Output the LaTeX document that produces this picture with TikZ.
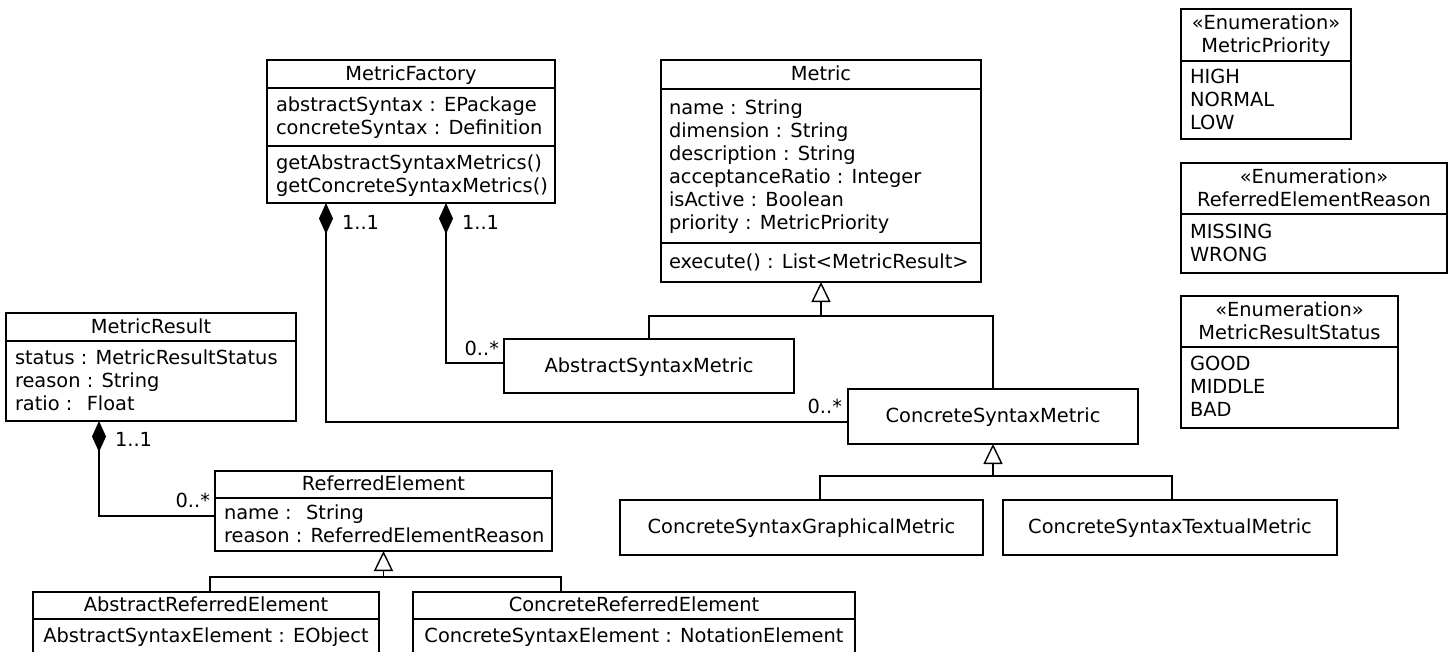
\documentclass[tikz,border=0pt]{standalone}
\usepackage{fontspec}
\setmainfont{DejaVu Sans}
\usetikzlibrary{arrows.meta}
\begin{document}
\begin{tikzpicture}[x=1pt,y=-1pt,
  clsbox/.style={draw=black, fill=white, line width=1.4pt, anchor=north west, inner sep=0pt, outer sep=0pt},
  divline/.style={draw=black, line width=1.4pt},
  umltext/.style={font=\fontsize{19.4}{23}\selectfont, text=black, inner sep=0pt, outer sep=0pt},
  clsname/.style={umltext, anchor=base},
  clsattr/.style={umltext, anchor=base west},
  multl/.style={umltext, anchor=base west},
  multr/.style={umltext, anchor=base east},
  conn/.style={draw=black, line width=1.4pt},
  comp/.style={conn, {Diamond[length=31pt,width=14pt]}-},
  gen/.style={conn, -{Triangle[open,length=20pt,width=19pt]}},
]
\fill[white] (0,0) rectangle (1453,651);
\useasboundingbox (0,0) rectangle (1453,651);
\clip (0,0) rectangle (1453,651);

% ---------- MetricFactory ----------
\node[clsbox, minimum width=288pt, minimum height=143pt] (mf) at (267,60) {};
\draw[divline] (mf.west |- 0,88) -- (mf.east |- 0,88);
\draw[divline] (mf.west |- 0,146) -- (mf.east |- 0,146);
\node[clsname] (mf-n) at (mf.center |- 0,80) {MetricFactory};
\node[clsattr] (mf-a1) at (276,111.5) {abstractSyntax : EPackage};
\node[clsattr] (mf-a2) at (276,134.5) {concreteSyntax : Definition};
\node[clsattr] (mf-o1) at (276,169) {getAbstractSyntaxMetrics()};
\node[clsattr] (mf-o2) at (276,192) {getConcreteSyntaxMetrics()};

% ---------- Metric ----------
\node[clsbox, minimum width=320pt, minimum height=222pt] (metric) at (661,60) {};
\draw[divline] (metric.west |- 0,89) -- (metric.east |- 0,89);
\draw[divline] (metric.west |- 0,243) -- (metric.east |- 0,243);
\node[clsname] (metric-n) at (metric.center |- 0,80.5) {Metric};
\node[clsattr] (metric-a1) at (669,114.5) {name : String};
\node[clsattr] (metric-a2) at (669,137.5) {dimension : String};
\node[clsattr] (metric-a3) at (669,160.5) {description : String};
\node[clsattr] (metric-a4) at (669,183.5) {acceptanceRatio : Integer};
\node[clsattr] (metric-a5) at (669,206.5) {isActive : Boolean};
\node[clsattr] (metric-a6) at (669,229.5) {priority : MetricPriority};
\node[clsattr] (metric-o1) at (669,268.5) {execute() : List<MetricResult>};

% ---------- Enumerations ----------
\node[clsbox, minimum width=170pt, minimum height=130pt] (mp) at (1181,9) {};
\draw[divline] (mp.west |- 0,61) -- (mp.east |- 0,61);
\node[clsname] (mp-s) at (mp.center |- 0,29.5) {«Enumeration»};
\node[clsname] (mp-n) at (mp.center |- 0,52.5) {MetricPriority};
\node[clsattr] (mp-v1) at (1190,83) {HIGH};
\node[clsattr] (mp-v2) at (1190,106) {NORMAL};
\node[clsattr] (mp-v3) at (1190,129) {LOW};

\node[clsbox, minimum width=266pt, minimum height=110pt] (rer) at (1181,163) {};
\draw[divline] (rer.west |- 0,214) -- (rer.east |- 0,214);
\node[clsname] (rer-s) at (rer.center |- 0,183) {«Enumeration»};
\node[clsname] (rer-n) at (rer.center |- 0,206) {ReferredElementReason};
\node[clsattr] (rer-v1) at (1190,238) {MISSING};
\node[clsattr] (rer-v2) at (1190,261) {WRONG};

\node[clsbox, minimum width=217pt, minimum height=132pt] (mrs) at (1181,296) {};
\draw[divline] (mrs.west |- 0,347) -- (mrs.east |- 0,347);
\node[clsname] (mrs-s) at (mrs.center |- 0,316) {«Enumeration»};
\node[clsname] (mrs-n) at (mrs.center |- 0,339) {MetricResultStatus};
\node[clsattr] (mrs-v1) at (1190,370.5) {GOOD};
\node[clsattr] (mrs-v2) at (1190,393.5) {MIDDLE};
\node[clsattr] (mrs-v3) at (1190,416.5) {BAD};

% ---------- MetricResult ----------
\node[clsbox, minimum width=290pt, minimum height=108pt] (mr) at (6,313) {};
\draw[divline] (mr.west |- 0,341) -- (mr.east |- 0,341);
\node[clsname] (mr-n) at (mr.center |- 0,333) {MetricResult};
\node[clsattr] (mr-a1) at (15,364) {status : MetricResultStatus};
\node[clsattr] (mr-a2) at (15,387) {reason : String};
\node[clsattr] (mr-a3) at (15,410) {ratio :~ Float};

% ---------- ReferredElement ----------
\node[clsbox, minimum width=337pt, minimum height=80pt] (re) at (215,471) {};
\draw[divline] (re.west |- 0,498) -- (re.east |- 0,498);
\node[clsname] (re-n) at (re.center |- 0,490.5) {ReferredElement};
\node[clsattr] (re-a1) at (224,519) {name :~ String};
\node[clsattr] (re-a2) at (224,542) {reason : ReferredElementReason};

\node[clsbox, minimum width=346pt, minimum height=70pt] (are) at (33,592) {};
\draw[divline] (are.west |- 0,619) -- (are.east |- 0,619);
\node[clsname] (are-n) at (are.center |- 0,611.5) {AbstractReferredElement};
\node[clsname] (are-a1) at (are.center |- 0,642) {AbstractSyntaxElement : EObject};

\node[clsbox, minimum width=442pt, minimum height=70pt] (cre) at (413,592) {};
\draw[divline] (cre.west |- 0,619) -- (cre.east |- 0,619);
\node[clsname] (cre-n) at (cre.center |- 0,611.5) {ConcreteReferredElement};
\node[clsname] (cre-a1) at (cre.center |- 0,642) {ConcreteSyntaxElement : NotationElement};

% ---------- Metric subclasses ----------
\node[clsbox, minimum width=290pt, minimum height=54pt] (asm) at (504,339) {};
\node[clsname] (asm-n) at (asm.center |- 0,372) {AbstractSyntaxMetric};

\node[clsbox, minimum width=290pt, minimum height=55pt] (csm) at (848,389) {};
\node[clsname] (csm-n) at (csm.center |- 0,422.5) {ConcreteSyntaxMetric};

\node[clsbox, minimum width=363pt, minimum height=55pt] (csgm) at (620,500) {};
\node[clsname] (csgm-n) at (csgm.center |- 0,533.5) {ConcreteSyntaxGraphicalMetric};

\node[clsbox, minimum width=334pt, minimum height=55pt] (cstm) at (1003,500) {};
\node[clsname] (cstm-n) at (cstm.center |- 0,533.5) {ConcreteSyntaxTextualMetric};

% ---------- Compositions ----------
\draw[comp] (mf.south -| 446,0) |- (asm.west |- 0,363);
\draw[comp] (mf.south -| 326,0) |- (csm.west |- 0,422);
\draw[comp] (mr.south -| 99,0) |- (re.west |- 0,516);

\node[multl] (m1) at (342,229) {1..1};
\node[multl] (m2) at (462,229) {1..1};
\node[multr] (m3) at (499,355) {0..*};
\node[multr] (m4) at (842,413) {0..*};
\node[multl] (m5) at (115,446) {1..1};
\node[multr] (m6) at (210,507) {0..*};

% ---------- Generalizations ----------
\coordinate (g1) at (metric.south |- 0,316);
\draw[conn] (asm.north) |- (g1) -| (csm.north);
\draw[gen] (g1) -- (metric.south);

\coordinate (g2) at (csm.south |- 0,476);
\draw[conn] (csgm.north -| 820,0) |- (g2) -| (cstm.north -| 1172,0);
\draw[gen] (g2) -- (csm.south);

\coordinate (g3) at (re.south |- 0,577);
\draw[conn] (are.north -| 210,0) |- (g3) -| (cre.north -| 561,0);
\draw[gen] (g3) -- (re.south);
\end{tikzpicture}
\end{document}
